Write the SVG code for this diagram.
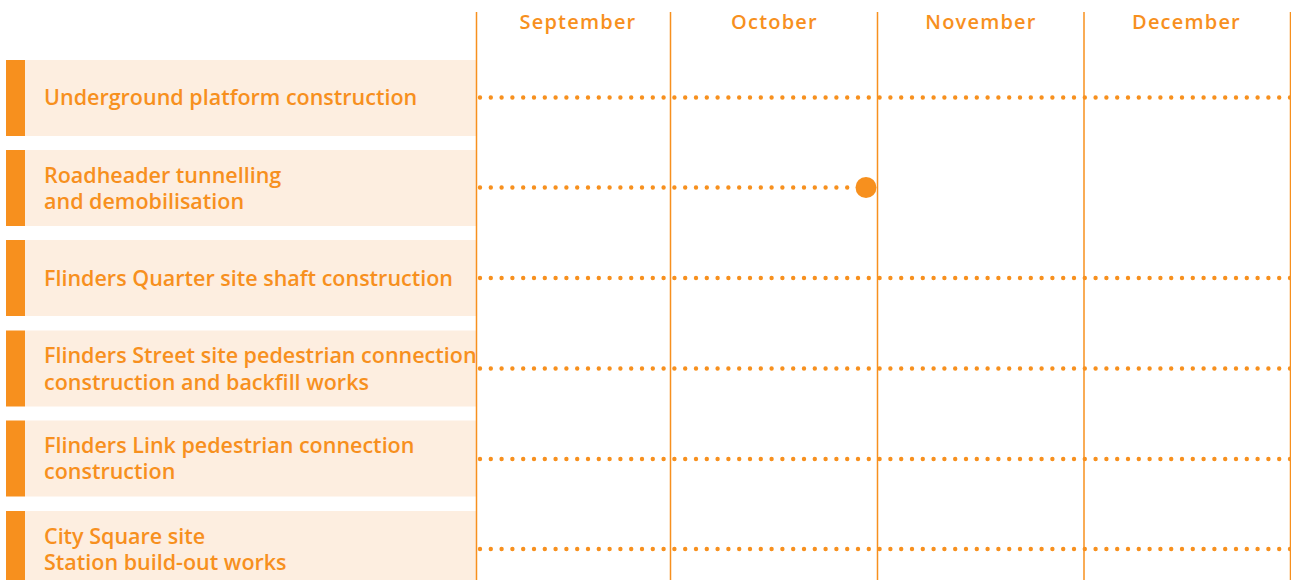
<svg xmlns="http://www.w3.org/2000/svg" width="1291" height="580" viewBox="0 0 1291 580">
<style>
.bg{fill:#FDEEE0}
.bar{fill:#F7901E}
.lbl{font-family:"Open Sans","Liberation Sans",sans-serif;font-weight:600;font-size:21.5px;fill:#F7901E}
.mon{font-family:"Open Sans","Liberation Sans",sans-serif;font-weight:600;font-size:20px;letter-spacing:1.2px;fill:#F7901E;text-anchor:middle}
.grid{stroke:#F7901E;stroke-width:1.5;fill:none}
.dots{stroke:#F7901E;stroke-width:4.4;stroke-linecap:round;stroke-dasharray:0 10.8;fill:none}
</style>
<rect width="1291" height="580" fill="#FFFFFF"/>
<g id="months">
<text class="mon" x="578" y="29">September</text>
<text class="mon" x="774.5" y="29">October</text>
<text class="mon" x="981" y="29">November</text>
<text class="mon" x="1186.5" y="29">December</text>
</g>
<g id="row1">
<rect class="bg" x="25" y="60" width="451" height="76"/>
<rect class="bar" x="6" y="60" width="19" height="76"/>
<text class="lbl" x="44" y="105">Underground platform construction</text>
</g>
<g id="row2">
<rect class="bg" x="25" y="150" width="451" height="76"/>
<rect class="bar" x="6" y="150" width="19" height="76"/>
<text class="lbl" x="44" y="183">Roadheader tunnelling</text>
<text class="lbl" x="44" y="209">and demobilisation</text>
</g>
<g id="row3">
<rect class="bg" x="25" y="240" width="451" height="76"/>
<rect class="bar" x="6" y="240" width="19" height="76"/>
<text class="lbl" x="44" y="286">Flinders Quarter site shaft construction</text>
</g>
<g id="row4">
<rect class="bg" x="25" y="330.5" width="451" height="76"/>
<rect class="bar" x="6" y="330.5" width="19" height="76"/>
<text class="lbl" x="44" y="363">Flinders Street site pedestrian connection</text>
<text class="lbl" x="44" y="390">construction and backfill works</text>
</g>
<g id="row5">
<rect class="bg" x="25" y="420.5" width="451" height="76"/>
<rect class="bar" x="6" y="420.5" width="19" height="76"/>
<text class="lbl" x="44" y="453">Flinders Link pedestrian connection</text>
<text class="lbl" x="44" y="479">construction</text>
</g>
<g id="row6">
<rect class="bg" x="25" y="511" width="451" height="76"/>
<rect class="bar" x="6" y="511" width="19" height="76"/>
<text class="lbl" x="44" y="544">City Square site</text>
<text class="lbl" x="44" y="570">Station build-out works</text>
</g>
<g id="grid">
<line class="grid" x1="476.5" y1="12" x2="476.5" y2="580"/>
<line class="grid" x1="670.5" y1="12" x2="670.5" y2="580"/>
<line class="grid" x1="877.5" y1="12" x2="877.5" y2="580"/>
<line class="grid" x1="1084" y1="12" x2="1084" y2="580"/>
<line class="grid" x1="1290.5" y1="12" x2="1290.5" y2="580"/>
</g>
<g id="connectors">
<line class="dots" x1="480" y1="97.5" x2="1291" y2="97.5"/>
<line class="dots" x1="480" y1="187.5" x2="858" y2="187.5"/>
<circle cx="866" cy="187.5" r="10.5" fill="#F7901E"/>
<line class="dots" x1="480" y1="278" x2="1291" y2="278"/>
<line class="dots" x1="480" y1="368.5" x2="1291" y2="368.5"/>
<line class="dots" x1="480" y1="459" x2="1291" y2="459"/>
<line class="dots" x1="480" y1="549" x2="1291" y2="549"/>
</g>
</svg>
